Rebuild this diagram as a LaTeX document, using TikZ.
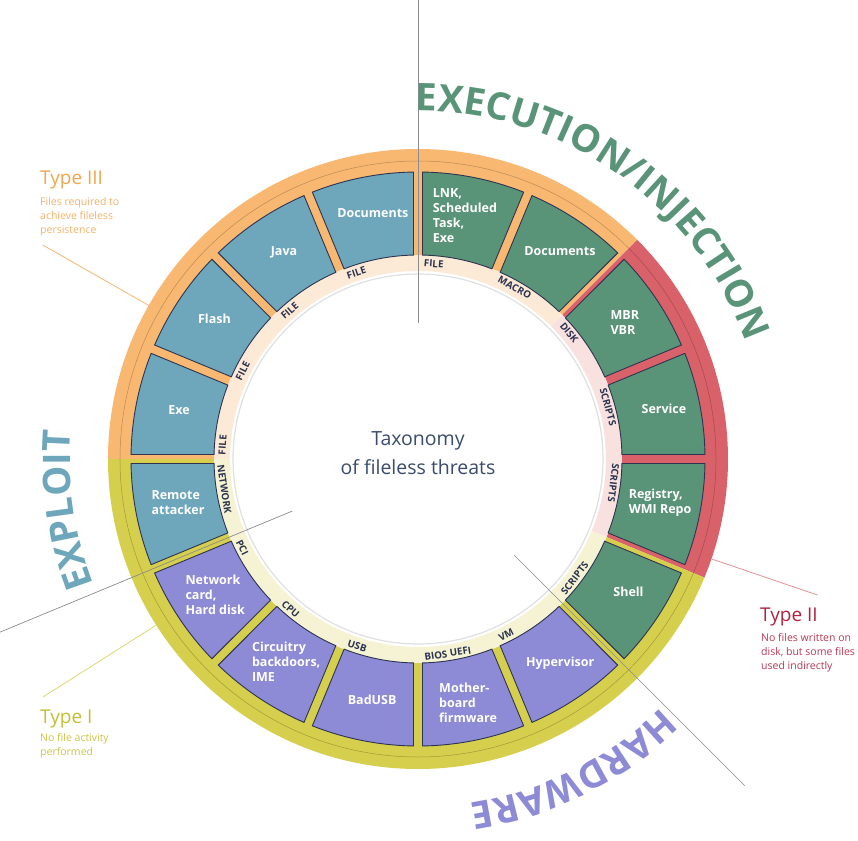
\documentclass[tikz,border=0pt]{standalone}
\usepackage{fontspec}
\setmainfont{Open Sans}
\usetikzlibrary{decorations.text}

\definecolor{tileblue}{HTML}{6EA7BB}
\definecolor{tilegreen}{HTML}{5A9478}
\definecolor{tilepurple}{HTML}{8D8AD6}
\definecolor{tileline}{HTML}{2E3450}
\definecolor{ringorange}{HTML}{F8B872}
\definecolor{ringred}{HTML}{D9626A}
\definecolor{ringyellow}{HTML}{D5CF4D}
\definecolor{paleorange}{HTML}{FCE9D6}
\definecolor{palered}{HTML}{F8E1DF}
\definecolor{paleyellow}{HTML}{F5F3D3}
\definecolor{tagnavy}{HTML}{2B3350}
\definecolor{titleslate}{HTML}{3A4C6C}
\definecolor{typeorange}{HTML}{F0A64E}
\definecolor{typeyellow}{HTML}{C5BF30}
\definecolor{typered}{HTML}{B02340}

\newcommand{\catfont}{\bfseries\fontsize{38}{40}\selectfont}

\begin{document}
\begin{tikzpicture}[x=1pt, y=1pt,
    tile/.style={draw=tileline, line width=0.9pt},
    tiletext/.style={text=white, font=\bfseries\fontsize{12.5}{15}\selectfont, align=left, inner sep=0pt},
    tag/.style={text=tagnavy, font=\bfseries\fontsize{9.8}{10}\selectfont, inner sep=0pt},
    divider/.style={draw=black!45, line width=0.7pt},
    leader/.style={line width=0.8pt},
    typehead/.style={anchor=base west, inner sep=0pt, font=\fontsize{19}{22}\selectfont},
    typetext/.style={anchor=north west, inner sep=0pt, align=left, font=\fontsize{10.5}{14}\selectfont}
]
    \fill[white] (-418,-381) rectangle (440,459);
    \useasboundingbox (-418,-381) rectangle (440,459);

    % outer bands
    \fill[ringorange] (45:310) arc[start angle=45, end angle=180, radius=310pt] -- (180:204) arc[start angle=180, end angle=45, radius=204pt] -- cycle;
    \fill[ringred] (-22.5:310) arc[start angle=-22.5, end angle=45, radius=310pt] -- (45:204) arc[start angle=45, end angle=-22.5, radius=204pt] -- cycle;
    \fill[ringyellow] (-180:310) arc[start angle=-180, end angle=-22.5, radius=310pt] -- (-22.5:204) arc[start angle=-22.5, end angle=-180, radius=204pt] -- cycle;
    \draw[black, opacity=0.25, line width=0.5pt] (0,0) circle[radius=298pt];

    % label band
    \fill[paleorange] (45:204) arc[start angle=45, end angle=180, radius=204pt] -- (180:188) arc[start angle=180, end angle=45, radius=188pt] -- cycle;
    \fill[palered] (-22.5:204) arc[start angle=-22.5, end angle=45, radius=204pt] -- (45:188) arc[start angle=45, end angle=-22.5, radius=188pt] -- cycle;
    \fill[paleyellow] (-180:204) arc[start angle=-180, end angle=-22.5, radius=204pt] -- (-22.5:188) arc[start angle=-22.5, end angle=-180, radius=188pt] -- cycle;
    \fill[white] (0,0) circle[radius=186pt];
    \draw[black!12, line width=1.2pt] (0,0) circle[radius=185pt];

    % tiles
    \draw[tile, fill=tilegreen] (89.1:287) arc[start angle=89.1, end angle=68.4, radius=287pt] -- (68.76:204) arc[start angle=68.76, end angle=88.74, radius=204pt] -- cycle;
    \draw[tile, fill=tilegreen] (66.6:287) arc[start angle=66.6, end angle=45.9, radius=287pt] -- (46.26:204) arc[start angle=46.26, end angle=66.24, radius=204pt] -- cycle;
    \draw[tile, fill=tilegreen] (44.1:287) arc[start angle=44.1, end angle=23.4, radius=287pt] -- (23.76:204) arc[start angle=23.76, end angle=43.74, radius=204pt] -- cycle;
    \draw[tile, fill=tilegreen] (21.6:287) arc[start angle=21.6, end angle=0.9, radius=287pt] -- (1.26:204) arc[start angle=1.26, end angle=21.24, radius=204pt] -- cycle;
    \draw[tile, fill=tilegreen] (-0.9:287) arc[start angle=-0.9, end angle=-21.6, radius=287pt] -- (-21.24:204) arc[start angle=-21.24, end angle=-1.26, radius=204pt] -- cycle;
    \draw[tile, fill=tilegreen] (-23.4:287) arc[start angle=-23.4, end angle=-44.1, radius=287pt] -- (-43.74:204) arc[start angle=-43.74, end angle=-23.76, radius=204pt] -- cycle;
    \draw[tile, fill=tilepurple] (-45.9:287) arc[start angle=-45.9, end angle=-66.6, radius=287pt] -- (-66.24:204) arc[start angle=-66.24, end angle=-46.26, radius=204pt] -- cycle;
    \draw[tile, fill=tilepurple] (-68.4:287) arc[start angle=-68.4, end angle=-89.1, radius=287pt] -- (-88.74:204) arc[start angle=-88.74, end angle=-68.76, radius=204pt] -- cycle;
    \draw[tile, fill=tilepurple] (-90.9:287) arc[start angle=-90.9, end angle=-111.6, radius=287pt] -- (-111.24:204) arc[start angle=-111.24, end angle=-91.26, radius=204pt] -- cycle;
    \draw[tile, fill=tilepurple] (-113.4:287) arc[start angle=-113.4, end angle=-134.1, radius=287pt] -- (-133.74:204) arc[start angle=-133.74, end angle=-113.76, radius=204pt] -- cycle;
    \draw[tile, fill=tilepurple] (-135.9:287) arc[start angle=-135.9, end angle=-156.6, radius=287pt] -- (-156.24:204) arc[start angle=-156.24, end angle=-136.26, radius=204pt] -- cycle;
    \draw[tile, fill=tileblue] (-158.4:287) arc[start angle=-158.4, end angle=-179.1, radius=287pt] -- (-178.74:204) arc[start angle=-178.74, end angle=-158.76, radius=204pt] -- cycle;
    \draw[tile, fill=tileblue] (179.1:287) arc[start angle=179.1, end angle=158.4, radius=287pt] -- (158.76:204) arc[start angle=158.76, end angle=178.74, radius=204pt] -- cycle;
    \draw[tile, fill=tileblue] (156.6:287) arc[start angle=156.6, end angle=135.9, radius=287pt] -- (136.26:204) arc[start angle=136.26, end angle=156.24, radius=204pt] -- cycle;
    \draw[tile, fill=tileblue] (134.1:287) arc[start angle=134.1, end angle=113.4, radius=287pt] -- (113.76:204) arc[start angle=113.76, end angle=133.74, radius=204pt] -- cycle;
    \draw[tile, fill=tileblue] (111.6:287) arc[start angle=111.6, end angle=90.9, radius=287pt] -- (91.26:204) arc[start angle=91.26, end angle=111.24, radius=204pt] -- cycle;

    % tile texts
    \node[tiletext] (lnk) at (79.1:248) {LNK,\\Scheduled\\Task,\\Exe};
    \node[tiletext] (docsgreen) at (55.7:252) {Documents};
    \node[tiletext] (mbr) at (33.5:248) {MBR\\VBR};
    \node[tiletext] (service) at (11.5:251) {Service};
    \node[tiletext] (registry) at (-10.3:246) {Registry,\\WMI Repo};
    \node[tiletext] (shell) at (-32.3:249) {Shell};
    \node[tiletext] (hypervisor) at (-55.2:249) {Hypervisor};
    \node[tiletext] (mobo) at (-78.4:249) {Mother-\\board\\firmware};
    \node[tiletext] (badusb) at (-100.8:245) {BadUSB};
    \node[tiletext] (circuitry) at (-123:242) {Circuitry\\backdoors,\\IME};
    \node[tiletext] (netcard) at (-146.2:244) {Network\\card,\\Hard disk};
    \node[tiletext] (remote) at (-169.6:244) {Remote\\attacker};
    \node[tiletext] (exe) at (168.4:244) {Exe};
    \node[tiletext] (flash) at (145.5:247) {Flash};
    \node[tiletext] (java) at (123:246) {Java};
    \node[tiletext] (docsblue) at (100.4:250) {Documents};

    % band tags
    \node[tag, rotate=-4.6] (tagfilea) at (85.4:196) {FILE};
    \node[tag, rotate=-29.4] (tagmacro) at (60.6:197) {MACRO};
    \node[tag, rotate=-50.1] (tagdisk) at (39.9:197) {DISK};
    \node[tag, rotate=-74.7] (tagscripta) at (15.3:197) {SCRIPTS};
    \node[tag, rotate=-97] (tagscriptb) at (-7:197) {SCRIPTS};
    \node[tag, rotate=52.7] (tagscriptc) at (-37.3:197) {SCRIPTS};
    \node[tag, rotate=26.6] (tagvm) at (-63.4:197) {VM};
    \node[tag, rotate=8.7] (tagbios) at (-81.3:197) {BIOS UEFI};
    \node[tag, rotate=-18] (tagusb) at (-108:197) {USB};
    \node[tag, rotate=-40.3] (tagcpu) at (-130.3:197) {CPU};
    \node[tag, rotate=-63.2] (tagpci) at (-153.2:197) {PCI};
    \node[tag, rotate=-81.2] (tagnet) at (-171.2:196) {NETWORK};
    \node[tag, rotate=85.9] (tagfileb) at (175.9:196) {FILE};
    \node[tag, rotate=63.4] (tagfilec) at (153.4:196) {FILE};
    \node[tag, rotate=40.9] (tagfiled) at (130.9:196) {FILE};
    \node[tag, rotate=18.3] (tagfilee) at (108.3:196) {FILE};

    % centre
    \node[text=titleslate, align=center, font=\fontsize{19.5}{29}\selectfont] (title) at (0,6) {Taxonomy\\of fileless threats};

    % category dividers
    \coordinate (divtopin) at (90:136);
    \coordinate (divtopout) at (90:470);
    \coordinate (divrightin) at (-45:136);
    \coordinate (divrightout) at (-45:462);
    \coordinate (divleftin) at (-157.5:136);
    \coordinate (divleftout) at (-157.5:470);
    \draw[divider] (divtopin) -- (divtopout);
    \draw[divider] (divrightin) -- (divrightout);
    \draw[divider] (divleftin) -- (divleftout);

    % category names
    \path[decorate, decoration={text along path, text align=center, text color=tilegreen,
        text={|\catfont|EXECUTION/INJECTION}}] (95:348) arc[start angle=95, end angle=15, radius=348pt];
    \path[decorate, decoration={text along path, text align=center, text color=tilepurple,
        text={|\catfont|HARDWARE}}] (-28:348) arc[start angle=-28, end angle=-99, radius=348pt];
    \path[decorate, decoration={text along path, text align=center, text color=tileblue,
        text={|\catfont|EXPLOIT}}] (210:348) arc[start angle=210, end angle=166.6, radius=348pt];

    % types
    \node[typehead, text=typeorange] (type3) at (-378,274) {Type III};
    \node[typetext, text=typeorange!85] (type3text) at (-378,262) {Files required to\\achieve fileless\\persistence};
    \node[typehead, text=typeyellow] (type1) at (-378,-264) {Type I};
    \node[typetext, text=typeyellow!90] (type1text) at (-378,-274) {No file activity\\performed};
    \node[typehead, text=typered] (type2) at (342,-162) {Type II};
    \node[typetext, text=typered!90] (type2text) at (343,-174) {No files written on\\disk, but some files\\used indirectly};

    \coordinate (lead3a) at (150.3:432);
    \coordinate (lead3b) at (150.3:310);
    \coordinate (lead1a) at (212.4:444);
    \coordinate (lead1b) at (212.4:310);
    \coordinate (lead2a) at (-18.8:310);
    \coordinate (lead2b) at (-18.8:422);
    \draw[leader, draw=ringorange] (lead3a) -- (lead3b);
    \draw[leader, draw=ringyellow!80] (lead1a) -- (lead1b);
    \draw[leader, draw=ringred!70] (lead2a) -- (lead2b);
\end{tikzpicture}
\end{document}
